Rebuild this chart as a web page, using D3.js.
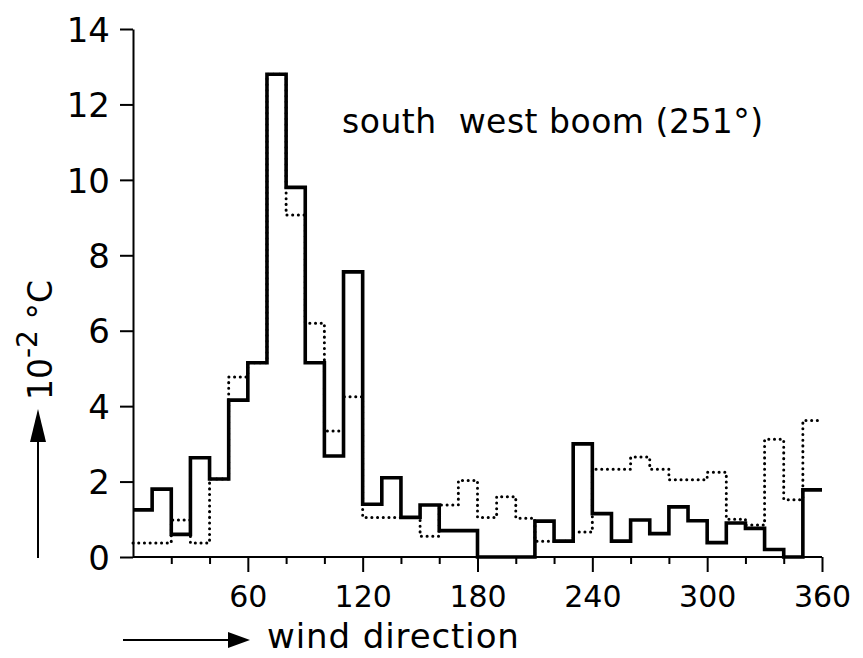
<!DOCTYPE html>
<html>
<head>
<meta charset="utf-8">
<script src="https://cdn.jsdelivr.net/npm/d3@7"></script>
<style>
	body { margin: 0; background: #fff; }
	svg { display: block; }
	text { font-family: "DejaVu Sans", sans-serif; fill: #000; }
</style>
</head>
<body>
<div id="chart"></div>
<script>

// bin starts (degrees), each bin is 10 deg wide
var binStart = [0,10,20,30,40,50,60,70,80,90,100,110,120,130,140,150,160,170,
				180,190,200,210,220,230,240,250,260,270,280,290,300,310,320,330,340,350];

// solid histogram (10^-2 degC)
var solidVals = [1.25,1.8,0.6,2.63,2.07,4.16,5.15,12.8,9.8,5.15,2.68,7.56,
				 1.4,2.1,1.05,1.38,0.7,0.7,0,0,0,0.95,0.42,3.0,
				 1.15,0.42,0.98,0.62,1.33,0.96,0.38,0.9,0.76,0.2,0,1.78];

// dotted histogram
var dottedVals = [0.37,0.37,0.98,0.37,2.07,4.77,5.15,12.8,9.07,6.2,3.34,4.25,
				  1.05,1.05,1.05,0.55,1.38,2.03,1.05,1.6,1.03,0.42,0.42,0.66,
				  2.33,2.33,2.65,2.33,2.05,2.05,2.25,1.0,0.85,3.12,1.52,3.62];

var yTicks = [0,2,4,6,8,10,12,14];
var xMajor = [60,120,180,240,300,360];
var xMinor = [20,40,80,100,140,160,200,220,260,280,320,340];

var titleText = "south  west boom (251\u00b0)";
var xLabelText = "wind direction";

var width = 863, height = 658;

var svg = d3.select("#chart").append("svg")
	.attr("width", width)
	.attr("height", height);

var xScale = d3.scaleLinear().domain([0,360]).range([133,822]);
var yScale = d3.scaleLinear().domain([0,14]).range([557,29]);

/*
 *	AXES
 */
var yAxis = d3.axisLeft(yScale)
	.tickValues(yTicks)
	.tickSize(13)
	.tickSizeOuter(0)
	.tickPadding(10);

var gy = svg.append("g")
	.attr("transform", "translate(" + xScale(0) + ",0)")
	.call(yAxis);
gy.selectAll("text")
	.style("font-size", "34px")
	.attr("dy", "0.36em");

// minor ticks (short), major ticks (long, labelled)
var gx = svg.append("g")
	.attr("transform", "translate(0," + yScale(0) + ")");

gx.append("line")
	.attr("x1", xScale(0)).attr("x2", xScale(360))
	.attr("stroke", "#000").attr("stroke-width", 2);

gx.call(d3.axisBottom(xScale).tickValues(xMinor).tickSize(7).tickSizeOuter(0).tickFormat(""))
	.select(".domain").remove();

var gxMaj = svg.append("g")
	.attr("transform", "translate(0," + yScale(0) + ")")
	.call(d3.axisBottom(xScale).tickValues(xMajor).tickSize(15).tickSizeOuter(0));
gxMaj.select(".domain").remove();
gxMaj.selectAll("text")
	.attr("y", 50)
	.attr("dy", 0)
	.style("font-size", "30px");

svg.selectAll(".tick line").attr("stroke-width", 2);
svg.selectAll(".domain").attr("stroke-width", 2);

/*
 *	STEP LINES
 */
function stepPoints(vals){
	var pts = binStart.map(function(b,i){ return [b, vals[i]]; });
	pts.push([360, vals[vals.length-1]]);
	return pts;
}

var line = d3.line()
	.x(function(d){ return xScale(d[0]); })
	.y(function(d){ return yScale(d[1]); })
	.curve(d3.curveStepAfter);

svg.append("path")
	.attr("d", line(stepPoints(dottedVals)))
	.attr("fill", "none")
	.attr("stroke", "#000")
	.attr("stroke-width", 3)
	.attr("stroke-linecap", "round")
	.attr("stroke-dasharray", "0.1 5.6");

svg.append("path")
	.attr("d", line(stepPoints(solidVals)))
	.attr("fill", "none")
	.attr("stroke", "#000")
	.attr("stroke-width", 3.6)
	.attr("stroke-linejoin", "miter");

/*
 *	TITLE + LABELS
 */
svg.append("text")
	.attr("x", 342)
	.attr("y", 133)
	.style("font-size", "33px")
	.style("letter-spacing", "0.5px")
	.style("white-space", "pre")
	.text(titleText);

// x label with arrow
svg.append("line")
	.attr("x1", 123).attr("x2", 232)
	.attr("y1", 640).attr("y2", 640)
	.attr("stroke", "#000").attr("stroke-width", 2);
svg.append("path")
	.attr("d", "M250,640 L228,632 L228,648 Z")
	.attr("fill", "#000");
svg.append("text")
	.attr("x", 267)
	.attr("y", 648)
	.style("font-size", "34px")
	.style("letter-spacing", "0.9px")
	.text(xLabelText);

// y label with arrow
svg.append("line")
	.attr("x1", 38).attr("x2", 38)
	.attr("y1", 558).attr("y2", 428)
	.attr("stroke", "#000").attr("stroke-width", 2);
svg.append("path")
	.attr("d", "M38,409 L30,442 L46,442 Z")
	.attr("fill", "#000");

var yl = svg.append("text")
	.attr("transform", "translate(52,400) rotate(-90)")
	.style("font-size", "33px");
yl.append("tspan").text("10");
yl.append("tspan").attr("dy", -15).style("font-size", "28px").text("-2");
yl.append("tspan").attr("dy", 15).style("white-space", "pre").text(" \u00b0C");

</script>
</body>
</html>
